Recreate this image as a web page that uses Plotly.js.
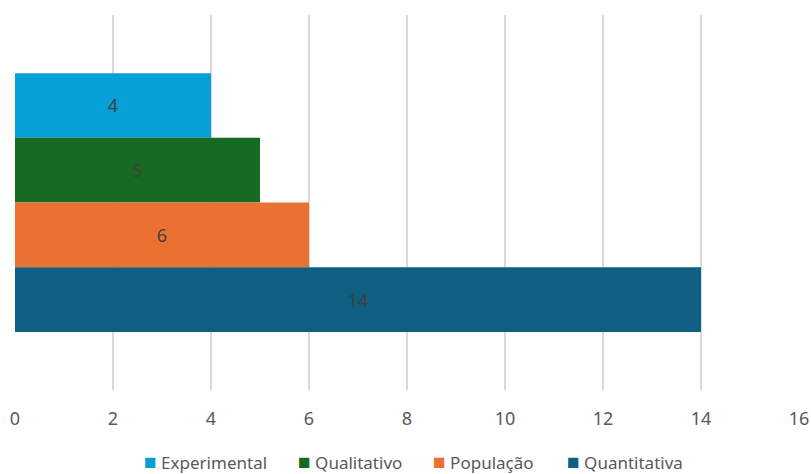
<!DOCTYPE html>
<html>
<head>
<meta charset="utf-8">
<script src="https://cdn.plot.ly/plotly-3.0.1.min.js"></script>
<style>html,body{margin:0;padding:0;background:#fff;}#chart{width:811px;height:474px;}</style>
</head>
<body>
<div id="chart"></div>
<script>
const seriesNames = ["Experimental", "Qualitativo", "População", "Quantitativa"];
const seriesValues = [4, 5, 6, 14];
const seriesColors = ["#07A0D6", "#166A22", "#EB7130", "#0E5F82"];
const category = ["Total"];
const xTicks = [0, 2, 4, 6, 8, 10, 12, 14, 16];

const traces = seriesNames.map((name, i) => ({
  type: "bar",
  orientation: "h",
  name: name,
  x: [seriesValues[i]],
  y: category,
  marker: { color: seriesColors[i], line: { width: 0 } },
  text: [String(seriesValues[i])],
  textposition: "inside",
  insidetextanchor: "middle",
  textfont: { family: "Noto Sans, sans-serif", size: 18, color: "#404040" },
  hoverinfo: "none",
  showlegend: false
}));

// Legend drawn as annotations (Excel-style compact legend)
const legendX = [0.162, 0.359, 0.531, 0.702];
const legendAnnotations = seriesNames.map((name, i) => ({
  xref: "paper",
  yref: "paper",
  x: legendX[i],
  y: -0.188,
  xanchor: "left",
  yanchor: "middle",
  showarrow: false,
  align: "left",
  text: '<span style="color:' + seriesColors[i] + ';font-size:21px">■</span> ' + name,
  font: { family: "Noto Sans, sans-serif", size: 17, color: "#595959" }
}));

const layout = {
  width: 811,
  height: 474,
  margin: { l: 15, r: 12, t: 15, b: 84, autoexpand: false },
  paper_bgcolor: "#ffffff",
  plot_bgcolor: "#ffffff",
  barmode: "group",
  bargap: 0.31,
  bargroupgap: 0,
  font: { family: "Noto Sans, sans-serif", size: 18, color: "#595959" },
  xaxis: {
    range: [0, 16],
    tickvals: xTicks,
    ticktext: xTicks.map(String),
    showgrid: true,
    gridcolor: "#D9D9D9",
    gridwidth: 2,
    zeroline: false,
    showline: false,
    ticks: "",
    ticklabelstandoff: 16,
    tickfont: { size: 18, color: "#595959" },
    automargin: false
  },
  yaxis: {
    autorange: "reversed",
    showticklabels: false,
    showgrid: false,
    zeroline: false,
    showline: false,
    ticks: "",
    automargin: false
  },
  showlegend: false,
  annotations: legendAnnotations
};

Plotly.newPlot("chart", traces, layout, { displayModeBar: false, staticPlot: true });
</script>
</body>
</html>
